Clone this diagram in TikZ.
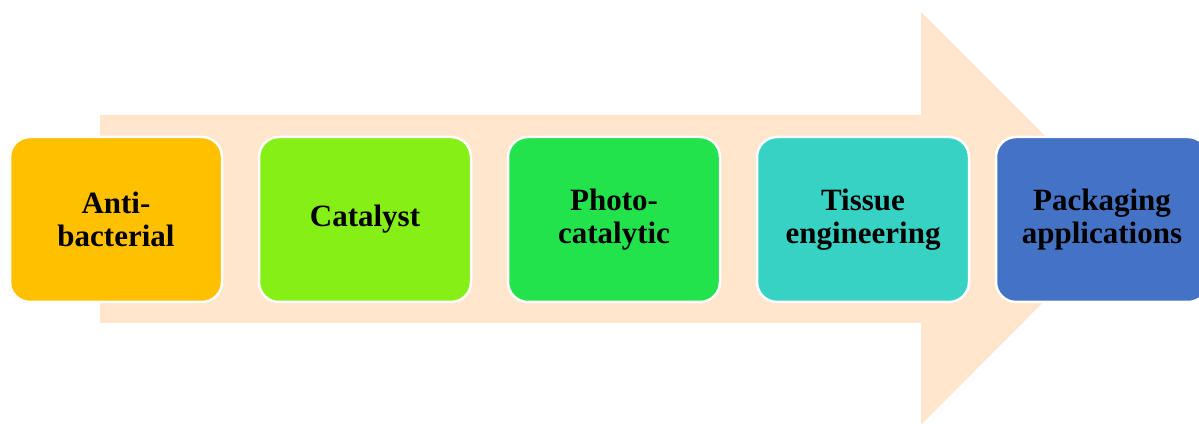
\documentclass[tikz,border=0pt]{standalone}
\usepackage{fontspec}
\setmainfont{Liberation Serif}
\definecolor{arrowfill}{HTML}{FFE6CC}
\definecolor{cA}{HTML}{FFC000}
\definecolor{cB}{HTML}{86F016}
\definecolor{cC}{HTML}{22E34C}
\definecolor{cD}{HTML}{36D3C5}
\definecolor{cE}{HTML}{4472C4}
\tikzset{
  stage/.style={draw=white, line width=2.5pt, rounded corners=20pt,
    minimum width=212pt, minimum height=165pt, inner sep=0pt,
    align=center, text width=200pt,
    font=\fontsize{31}{33}\selectfont\bfseries, text=black}
}
\begin{document}
\begin{tikzpicture}[x=1pt,y=1pt]
\useasboundingbox (0,0) rectangle (1199,423);
\clip (0,0) rectangle (1199,423);
% broad background arrow
\fill[arrowfill] (100,308) -- (921,308) -- (921,411) -- (1127,205)
  -- (921,-2) -- (921,100) -- (100,100) -- cycle;
% stage boxes
\node[stage, fill=cA] (s1) at (116,203.5) {Anti-\\bacterial};
\node[stage, fill=cB] (s2) at (365,203.5) {Catalyst};
\node[stage, fill=cC] (s3) at (614,203.5) {Photo-\\catalytic};
\node[stage, fill=cD] (s4) at (863,203.5) {Tissue\\engineering};
\node[stage, fill=cE] (s5) at (1102,203.5) {Packaging\\applications};
\end{tikzpicture}
\end{document}
